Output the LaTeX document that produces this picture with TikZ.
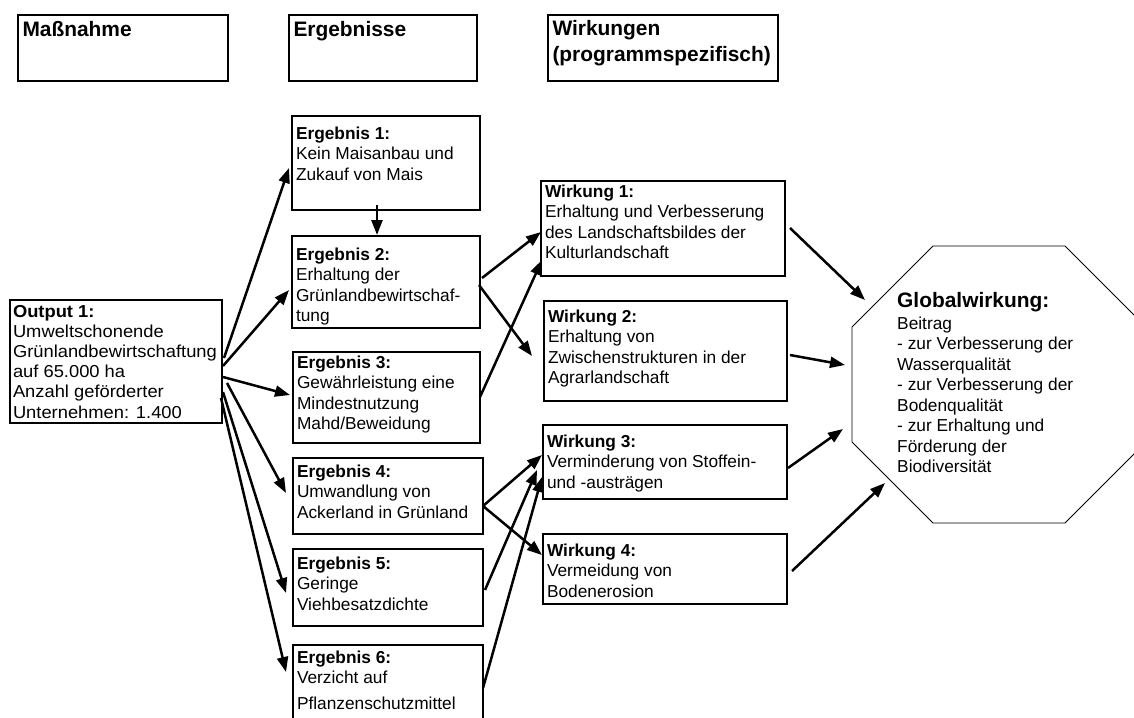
\documentclass[tikz,border=0pt]{standalone}
\usepackage{fontspec}
\setmainfont{Liberation Sans}
\newfontfamily\widesans[FakeStretch=1.06]{Liberation Sans}
\usetikzlibrary{arrows.meta,calc}

% cell contents: #1 text width, #2 box height, #3 first baseline below top, #4 text
\newcommand{\cell}[4]{\parbox[c][#2pt][t]{#1pt}{\raggedright\rule{0pt}{#3pt}#4}}

\begin{document}
\begin{tikzpicture}[x=1pt,y=-1pt,
  font=\fontsize{17.3}{20.5}\selectfont,
  hdr/.style={draw, line width=1.8pt, anchor=north west, inner xsep=4.5pt, inner ysep=0pt,
    outer sep=0pt, font=\fontsize{20.9}{26}\selectfont\bfseries},
  bx/.style={draw, line width=1.1pt, anchor=north west, inner xsep=4pt, inner ysep=0pt, outer sep=0pt},
  arr/.style={line width=2.5pt, -{Triangle[length=15pt,width=11pt]}},
  oct/.style={draw, line width=0.9pt, fill=white}]

\useasboundingbox (0,0) rectangle (1134,717);
\fill[white] (0,0) rectangle (1134,717);
\begin{scope}
\clip (0,0) rectangle (1134,717);

% column headers
\node[hdr] (hM) at (18,15)  {\cell{201}{66}{22}{Maßnahme}};
\node[hdr] (hE) at (289,15) {\cell{179}{66}{22}{Ergebnisse}};
\node[hdr] (hW) at (548,15) {\cell{221}{66}{21}{Wirkungen\\(programmspezifisch)}};

% measure
\node[bx, inner xsep=3pt, font=\widesans\fontsize{17.3}{20.2}\selectfont] (out) at (10,300)
  {\cell{206}{123}{17}{\textbf{Output 1:}\\Umweltschonende\\Grünlandbewirtschaftung\\auf 65.000 ha\\Anzahl geförderter\\Unternehmen: 1.400}};

% results
\node[bx] (e1) at (292,116) {\cell{180}{94}{23}{\textbf{Ergebnis 1:}\\Kein Maisanbau und\\Zukauf von Mais}};
\node[bx] (e2) at (292,236) {\cell{180}{92}{24}{\textbf{Ergebnis 2:}\\Erhaltung der\\Grünlandbewirtschaf-\\tung}};
\node[bx] (e3) at (293,352) {\cell{179}{91}{16}{\textbf{Ergebnis 3:}\\Gewährleistung eine\\Mindestnutzung\\Mahd/Beweidung}};
\node[bx] (e4) at (293,458) {\cell{182}{76}{19}{\textbf{Ergebnis 4:}\\Umwandlung von\\Ackerland in Grünland}};
\node[bx] (e5) at (293,549) {\cell{182}{77}{20}{\textbf{Ergebnis 5:}\\Geringe\\Viehbesatzdichte}};
\node[bx] (e6) at (293,645) {\cell{182}{90}{18}{\textbf{Ergebnis 6:}\\Verzicht auf\\[5.5pt]Pflanzenschutzmittel}};

% effects
\node[bx] (w1) at (541,181) {\cell{236}{95}{16}{\textbf{Wirkung 1:}\\Erhaltung und Verbesserung\\des Landschaftsbildes der\\Kulturlandschaft}};
\node[bx] (w2) at (544,301) {\cell{235}{100}{21}{\textbf{Wirkung 2:}\\Erhaltung von\\Zwischenstrukturen in der\\Agrarlandschaft}};
\node[bx] (w3) at (543,425) {\cell{236}{74}{22}{\textbf{Wirkung 3:}\\Verminderung von Stoffein-\\und -austrägen}};
\node[bx] (w4) at (543,534) {\cell{236}{70}{22}{\textbf{Wirkung 4:}\\Vermeidung von\\Bodenerosion}};

% global effect octagon
\coordinate (gc) at (999,384.5);
\draw[oct] ($(gc)+(-66,-138.5)$) -- ($(gc)+(66,-138.5)$) -- ($(gc)+(147,-57.5)$)
  -- ($(gc)+(147,57.5)$) -- ($(gc)+(66,138.5)$) -- ($(gc)+(-66,138.5)$)
  -- ($(gc)+(-147,57.5)$) -- ($(gc)+(-147,-57.5)$) -- cycle;
\node[anchor=base west, inner sep=0pt] (gtxt) at (897,307) {\parbox[t]{230pt}{\raggedright
  {\fontsize{20.9}{25}\selectfont\bfseries Globalwirkung:}\\[1.8pt]
  Beitrag\\- zur Verbesserung der\\Wasserqualität\\- zur Verbesserung der\\Bodenqualität\\- zur Erhaltung und\\Förderung der\\Biodiversität\par}};

% measure -> results
\draw[arr] ($(out.north west)+(214,58)$) -- ($(e1.north west)+(-3,52)$);
\draw[arr] ($(out.north west)+(213,66)$) -- ($(e2.north west)+(-3,54)$);
\draw[arr] ($(out.north west)+(213,77)$) -- ($(e3.north west)+(-3,43)$);
\draw[arr] ($(out.north west)+(217,83)$) -- ($(e4.north west)+(-7,35)$);
\draw[arr] ($(out.north west)+(213,92)$) -- ($(e5.north west)+(-7,44)$);
\draw[arr] ($(out.north west)+(211,98)$) -- ($(e6.north west)+(-7,27)$);

% result 1 -> result 2
\draw[arr] ($(e1.north west)+(85,89)$) -- ($(e2.north west)+(85,-1)$);

% results -> effects
\draw[arr] ($(e2.north west)+(190,42)$) -- ($(w1.north west)+(0,51)$);
\draw[arr] ($(e2.north west)+(187,49)$) -- ($(w2.north west)+(-12,55)$);
\draw[arr] ($(e3.north west)+(187,45)$) -- ($(w1.north west)+(1,79)$);
\draw[arr] ($(e4.north west)+(190,48)$) -- ($(w3.north west)+(-1,30)$);
\draw[arr] ($(e4.north west)+(190,48)$) -- ($(w4.north west)+(-1,21)$);
\draw[arr] ($(e5.north west)+(192,41)$) -- ($(w3.north west)+(-6,45)$);
\draw[arr] ($(e6.north west)+(190,43)$) -- ($(w3.north west)+(-1,52)$);

% effects -> global effect
\draw[arr] ($(w1.north west)+(249,47)$) -- ($(gc)+(-134,-84.5)$);
\draw[arr] ($(w2.north west)+(246,54)$) -- ($(gc)+(-154,-19.5)$);
\draw[arr] ($(w3.north west)+(245,43)$) -- ($(gc)+(-156,44.5)$);
\draw[arr] ($(w4.north west)+(249,37)$) -- ($(gc)+(-114,98.5)$);
\end{scope}
\end{tikzpicture}
\end{document}
